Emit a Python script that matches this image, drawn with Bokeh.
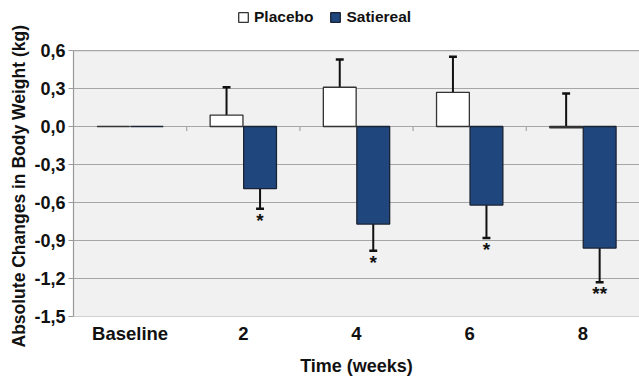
from bokeh.plotting import figure
from bokeh.models import (Range1d, FixedTicker, Legend, LegendItem, ColumnDataSource, Title)
from bokeh.core.properties import value
from bokeh.embed import file_html
from bokeh.resources import INLINE

categories = ["Baseline", "2", "4", "6", "8"]
placebo = [0.0, 0.09, 0.31, 0.27, -0.01]
placebo_err = [0.0, 0.31, 0.53, 0.55, 0.26]
satiereal = [0.0, -0.49, -0.77, -0.62, -0.96]
satiereal_err = [0.0, -0.65, -0.98, -0.88, -1.23]
signif = ["", "*", "*", "*", "**"]
y_ticks = [-1.5, -1.2, -0.9, -0.6, -0.3, 0.0, 0.3, 0.6]
y_tick_labels = ["-1,5", "-1,2", "-0,9", "-0,6", "-0,3", "0,0", "0,3", "0,6"]

FONT = "Liberation Sans"
NAVY = "#1f477d"
GRID = "#a6a6a6"

ymin, ymax = min(y_ticks), max(y_ticks)
xmin, xmax = -0.5, len(categories) - 0.5
TOP_SPACE = 0.395  # room above the plot area for the legend

p = figure(width=639, height=379, output_backend="svg", toolbar_location=None,
           x_range=Range1d(xmin, xmax), y_range=Range1d(ymin, ymax + TOP_SPACE),
           min_border_left=73, min_border_right=0, min_border_top=0, min_border_bottom=63)
p.background_fill_color = "white"
p.border_fill_color = "white"
p.outline_line_color = None
p.xgrid.grid_line_color = None
p.ygrid.grid_line_color = None

# plot-area background
p.quad(left=[xmin], right=[xmax], bottom=[ymin], top=[ymax], fill_color="#f1f1f1", line_color=None)
# horizontal gridlines
p.segment(x0=[xmin] * len(y_ticks), x1=[xmax] * len(y_ticks), y0=y_ticks, y1=y_ticks,
          line_color=GRID, line_width=1.2)

xs = list(range(len(categories)))
off = 0.148
w = 0.29
xp = [x - off for x in xs]
xsat = [x + off for x in xs]

# category boundary ticks on zero line
bx = [i + 0.5 for i in range(len(categories) - 1)]
p.segment(x0=bx, x1=bx, y0=[0] * len(bx), y1=[-0.035] * len(bx), line_color=GRID, line_width=1.2)

# error whiskers (only where non-zero)
idx = [i for i in xs if placebo_err[i] != placebo[i]]
p.segment(x0=[xp[i] for i in idx], x1=[xp[i] for i in idx],
          y0=[placebo[i] for i in idx], y1=[placebo_err[i] for i in idx],
          line_color="#111111", line_width=2)
p.segment(x0=[xp[i] - 0.035 for i in idx], x1=[xp[i] + 0.035 for i in idx],
          y0=[placebo_err[i] for i in idx], y1=[placebo_err[i] for i in idx],
          line_color="#111111", line_width=2.5)
idx2 = [i for i in xs if satiereal_err[i] != satiereal[i]]
p.segment(x0=[xsat[i] for i in idx2], x1=[xsat[i] for i in idx2],
          y0=[satiereal[i] for i in idx2], y1=[satiereal_err[i] for i in idx2],
          line_color="#111111", line_width=2)
p.segment(x0=[xsat[i] - 0.035 for i in idx2], x1=[xsat[i] + 0.035 for i in idx2],
          y0=[satiereal_err[i] for i in idx2], y1=[satiereal_err[i] for i in idx2],
          line_color="#111111", line_width=2.5)

r1 = p.vbar(x=xp, width=w, top=placebo, bottom=0, fill_color="white",
            line_color="#333333", line_width=1.3)
r2 = p.vbar(x=xsat, width=w, top=satiereal, bottom=0, fill_color=NAVY,
            line_color="#1a2333", line_width=1.3)

# significance marks
src = ColumnDataSource(dict(x=[xsat[i] for i in xs if signif[i]],
                            y=[satiereal_err[i] for i in xs if signif[i]],
                            t=[signif[i] for i in xs if signif[i]]))
p.text(x="x", y="y", text="t", source=src, text_align="center", text_baseline="top",
       y_offset=1, text_font=value(FONT), text_font_size="19px", text_font_style="bold",
       text_color="#111111")

# axes
p.yaxis.ticker = FixedTicker(ticks=y_ticks)
p.yaxis.bounds = (ymin, ymax)
p.yaxis.major_label_overrides = {t: l for t, l in zip(y_ticks, y_tick_labels)}
p.yaxis.major_label_text_font = FONT
p.yaxis.major_label_text_font_style = "bold"
p.yaxis.major_label_text_font_size = "18px"
p.yaxis.major_label_text_color = "#111111"
p.yaxis.axis_line_color = "#999999"
p.yaxis.axis_line_width = 1.2
p.yaxis.major_tick_line_color = "#999999"
p.yaxis.major_tick_in = 0
p.yaxis.major_tick_out = 5
p.yaxis.minor_tick_line_color = None
p.yaxis.major_label_standoff = 3

# y-axis title as a left-side Title so it can be centred on the plot area
ytitle = Title(text="Absolute Changes in Body Weight (kg)", align="left", offset=-31,
               vertical_align="middle", standoff=4,
               text_font=FONT, text_font_style="bold", text_font_size="17.5px",
               text_color="#111111")
p.add_layout(ytitle, "left")

p.xaxis.ticker = FixedTicker(ticks=xs)
p.xaxis.major_label_overrides = {i: c for i, c in zip(xs, categories)}
p.xaxis.major_label_text_font = FONT
p.xaxis.major_label_text_font_style = "bold"
p.xaxis.major_label_text_font_size = "18.5px"
p.xaxis.major_label_text_color = "#111111"
p.xaxis.axis_line_color = None
p.xaxis.major_tick_line_color = None
p.xaxis.minor_tick_line_color = None
p.xaxis.major_label_standoff = 0
p.xaxis.axis_label = "Time (weeks)"
p.xaxis.axis_label_text_font = FONT
p.xaxis.axis_label_text_font_style = "bold"
p.xaxis.axis_label_text_font_size = "18px"
p.xaxis.axis_label_text_color = "#111111"
p.xaxis.axis_label_standoff = 9

legend = Legend(items=[LegendItem(label="Placebo", renderers=[r1]),
                       LegendItem(label="Satiereal", renderers=[r2])],
                orientation="horizontal", location=(164, 290),
                label_text_font=FONT, label_text_font_style="bold",
                label_text_font_size="15.5px", label_text_color="#111111",
                glyph_width=12, glyph_height=12, spacing=16, label_standoff=5,
                label_height=18,
                border_line_color=None, background_fill_alpha=0,
                margin=0, padding=0)
p.add_layout(legend)

open("out.html", "w").write(file_html(p, INLINE))
